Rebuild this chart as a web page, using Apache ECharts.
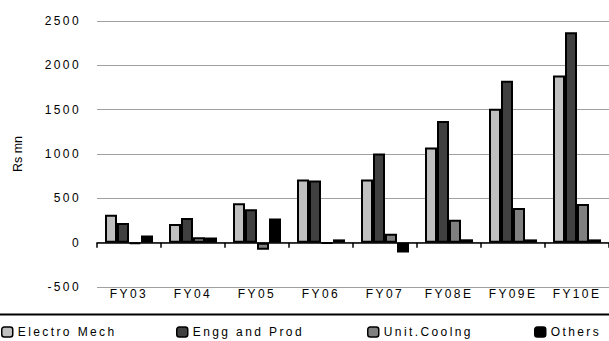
<!DOCTYPE html>
<html><head><meta charset="utf-8">
<script src="https://cdn.jsdelivr.net/npm/echarts@6/dist/echarts.min.js"></script>
<style>
html,body{margin:0;padding:0;background:#fff;}
#c{width:609px;height:341px;}
#c text[style*="Arial"], #c text[font-family*="Arial"]{letter-spacing:2.4px;}
</style>
</head><body>
<div id="c"></div>
<script>
const categories = ['FY03','FY04','FY05','FY06','FY07','FY08E','FY09E','FY10E'];
const electroMech = [315, 210, 445, 712, 712, 1072, 1510, 1885];
const enggProd    = [222, 278, 378, 700, 1005, 1372, 1825, 2372];
const unitCooling = [-15, 60, -80, -10, 100, 258, 392, 435];
const others      = [80, 57, 272, 37, -112, 38, 37, 37];
const seriesNames = ['Electro Mech','Engg and Prod','Unit.Coolng','Others'];
const seriesData = [electroMech, enggProd, unitCooling, others];
const colors = ['#c0c0c0','#404040','#808080','#000000'];
const yTicks = {min:-500, max:2500, interval:500};

const chart = echarts.init(document.getElementById('c'), null, {renderer:'svg'});
const font = 'Arial';
const legendLeft = [1, 176, 367, 534];
chart.setOption({
  animation:false,
  backgroundColor:'#fff',
  grid:{left:97, right:0, top:21, bottom:54},
  xAxis:{
    type:'category', data:categories,
    axisLine:{onZero:true, lineStyle:{color:'#000', width:1.5}},
    axisTick:{show:true, length:5, lineStyle:{color:'#000', width:1.5}},
    axisLabel:{color:'#000', fontFamily:font, fontSize:12, margin:1}
  },
  yAxis:{
    type:'value', min:yTicks.min, max:yTicks.max, interval:yTicks.interval,
    name:'Rs mn', nameLocation:'middle', nameGap:73,
    nameTextStyle:{color:'#000', fontFamily:'Liberation Sans', fontSize:12.5},
    axisLine:{show:false}, axisTick:{show:false},
    axisLabel:{color:'#000', fontFamily:font, fontSize:12, margin:16, formatter:v=>String(v)},
    splitLine:{lineStyle:{color:'#a0a0a0', width:1.2}}
  },
  legend: seriesNames.map((n,i)=>({
    data:[n], left:legendLeft[i], top:326, padding:0, itemWidth:11, itemHeight:10, itemGap:5,
    textStyle:{color:'#000', fontFamily:font, fontSize:12},
    itemStyle:{borderColor:'#000', borderWidth:1.5}
  })),
  graphic:[{type:'line', shape:{x1:0,y1:314.5,x2:609,y2:314.5}, style:{stroke:'#000', lineWidth:1.8}}],
  series: seriesNames.map((n,i)=>({
    name:n, type:'bar', data:seriesData[i], barGap:'0%', barCategoryGap:'25%',
    itemStyle:{color:colors[i], borderColor:'#000', borderWidth:2}
  }))
});
</script>
</body></html>
